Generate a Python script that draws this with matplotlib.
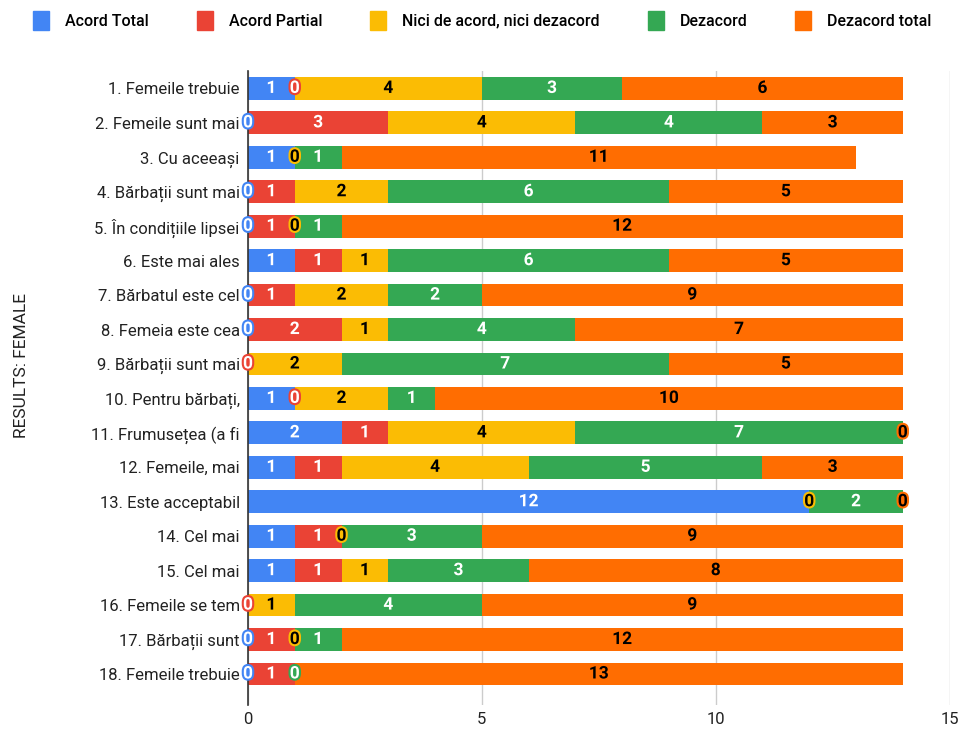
import numpy as np
import matplotlib
matplotlib.use("Agg")
import matplotlib.pyplot as plt
import matplotlib.patheffects as pe
from matplotlib.patches import Patch

plt.rcParams['font.family'] = ['Roboto', 'DejaVu Sans']

# statements (truncated as in the sheet)
categories = [
    "1. Femeile trebuie", "2. Femeile sunt mai", "3. Cu aceeași",
    "4. Bărbații sunt mai", "5. În condițiile lipsei", "6. Este mai ales",
    "7. Bărbatul este cel", "8. Femeia este cea", "9. Bărbații sunt mai",
    "10. Pentru bărbați,", "11. Frumusețea (a fi", "12. Femeile, mai",
    "13. Este acceptabil", "14. Cel mai", "15. Cel mai",
    "16. Femeile se tem", "17. Bărbații sunt", "18. Femeile trebuie",
]

series_names = ["Acord Total", "Acord Partial", "Nici de acord, nici dezacord",
                "Dezacord", "Dezacord total"]

# None = empty cell (no label drawn)
acord_total   = [1, 0, 1, 0, 0, 1, 0, 0, None, 1, 2, 1, 12, 1, 1, None, 0, 0]
acord_partial = [0, 3, None, 1, 1, 1, 1, 2, 0, 0, 1, 1, None, 1, 1, 0, 1, 1]
nici          = [4, 4, 0, 2, 0, 1, 2, 1, 2, 2, 4, 4, 0, 0, 1, 1, 0, None]
dezacord      = [3, 4, 1, 6, 1, 6, 2, 4, 7, 1, 7, 5, 2, 3, 3, 4, 1, 0]
dezacord_tot  = [6, 3, 11, 5, 12, 5, 9, 7, 5, 10, 0, 3, 0, 9, 8, 9, 12, 13]

series = [acord_total, acord_partial, nici, dezacord, dezacord_tot]
colors = ["#4285F4", "#EA4335", "#FBBC04", "#34A853", "#FF6D01"]
text_colors = ["white", "white", "black", "white", "black"]

xticks = [0, 5, 10, 15]

fig = plt.figure(figsize=(9.65, 7.31), dpi=100)
ax = fig.add_axes([0.257, 0.0356, 0.727, 0.867])

y = np.arange(len(categories))
left = np.zeros(len(categories))
for vals, col, tcol, name in zip(series, colors, text_colors, series_names):
    v = np.array([0 if a is None else a for a in vals], dtype=float)
    ax.barh(y, v, left=left, height=0.66, color=col, label=name, zorder=2)
    for i, a in enumerate(vals):
        if a is None:
            continue
        ax.text(left[i] + v[i] / 2, y[i], str(a), ha="center", va="center",
                fontsize=12.5, fontweight="bold", color=tcol, zorder=4,
                path_effects=[pe.withStroke(linewidth=3, foreground=col)])
    left += v

ax.set_ylim(17.9, -0.5)
ax.set_xlim(0, 15)
ax.set_xticks(xticks)
ax.set_xticklabels([str(t) for t in xticks], fontsize=12, color="#222222")
ax.set_yticks(y)
ax.set_yticklabels(categories, fontsize=12, color="#222222")
ax.tick_params(axis="both", length=0, pad=6)
ax.tick_params(axis="x", pad=5)
ax.grid(axis="x", color="#cccccc", linewidth=1, zorder=0)
for s in ["top", "right", "bottom"]:
    ax.spines[s].set_visible(False)
ax.spines["left"].set_color("#333333")
ax.spines["left"].set_linewidth(1.2)
ax.spines["left"].set_zorder(3)

fig.text(0.022, 0.5, "RESULTS: FEMALE", rotation=90, ha="center", va="center",
         fontsize=12.5, color="#222222")

handles = [Patch(facecolor=c, edgecolor=c) for c in colors]
fig.legend(handles, series_names, loc="upper center", ncol=5, frameon=False,
           bbox_to_anchor=(0.5, 1.005), handlelength=1.0,
           handleheight=1.5, columnspacing=3.0, handletextpad=1.0,
           prop={"weight": "medium", "size": 11.5})

fig.savefig("out.png", dpi=100)
